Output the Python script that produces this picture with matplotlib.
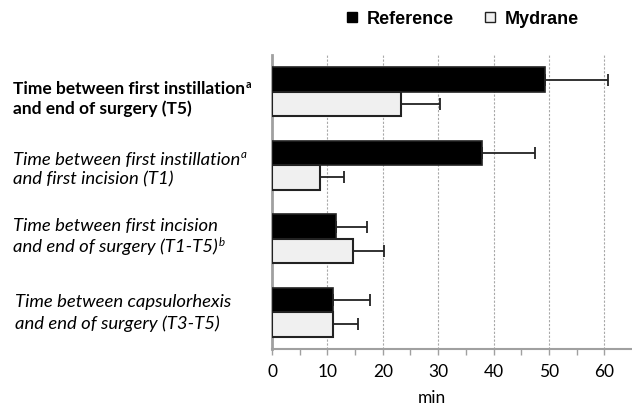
import matplotlib.pyplot as plt
import numpy as np
from matplotlib.lines import Line2D
from matplotlib.transforms import blended_transform_factory

plt.rcParams['font.family'] = ['Lato', 'DejaVu Sans']

line1 = ["Time between first instillation", "Time between first instillation",
         "Time between first incision", "Time between capsulorhexis"]
line2 = ["and end of surgery (T5)", "and first incision (T1)",
         "and end of surgery (T1-T5)", "and end of surgery (T3-T5)"]
sup1 = ["a", "a", "", ""]
sup2 = ["", "", "b", ""]
label_styles = ['bold', 'italic', 'italic', 'italic']
ref_mean = [49.3, 37.9, 11.5, 11.1]
ref_sd = [11.3, 9.6, 5.7, 6.6]
myd_mean = [23.3, 8.7, 14.7, 11.0]
myd_sd = [7.0, 4.3, 5.6, 4.6]

fig = plt.figure(figsize=(6.32, 4.05), dpi=100)
ax = fig.add_axes([272/632, 1 - 349/405, 360/632, 294/405])

y = np.arange(len(line1))
h = 0.33
ax.barh(y - h/2, ref_mean, height=h, color='black', edgecolor='#222222', linewidth=1.2, zorder=3)
ax.barh(y + h/2, myd_mean, height=h, color='#f0f0f0', edgecolor='#222222', linewidth=1.5, zorder=3)
ax.errorbar(ref_mean, y - h/2, xerr=[np.zeros(4), ref_sd], fmt='none', ecolor='#222222',
            elinewidth=1.3, capsize=4.5, capthick=1.3, zorder=4)
ax.errorbar(myd_mean, y + h/2, xerr=[np.zeros(4), myd_sd], fmt='none', ecolor='#222222',
            elinewidth=1.3, capsize=4.5, capthick=1.3, zorder=4)

ax.set_xlim(0, 65)
ax.set_ylim(3.5, -0.5)
ax.set_xticks(range(0, 61, 10))
ax.set_xticks(range(5, 61, 10), minor=True)
ax.set_yticks([])
ax.tick_params(axis='x', which='both', direction='out', length=4, width=1, color='#a0a0a0',
               labelsize=12.5, pad=6.5)
ax.grid(axis='x', linestyle=(0, (2, 1.5)), color='#a8a8a8', linewidth=0.8, zorder=0)
for s in ['top', 'right']:
    ax.spines[s].set_visible(False)
ax.spines['left'].set_color('#a0a0a0')
ax.spines['left'].set_linewidth(2)
ax.spines['bottom'].set_color('#a0a0a0')
ax.spines['bottom'].set_linewidth(1.5)
ax.set_xlabel('min', fontsize=12.5, va='center')
ax.xaxis.set_label_coords(0.444, -0.168)

# label lines: baseline offsets from group centre (data units)
trans = blended_transform_factory(fig.transFigure, ax.transData)
off1 = [0.036, -0.01, -0.105, -0.078]
off2 = [0.308, 0.263, 0.182, 0.222]
xs = [13, 13, 13, 15]
for i in range(len(line1)):
    kw = dict(fontsize=12.5 if label_styles[i] == 'bold' else 13.3,
              fontweight='bold' if label_styles[i] == 'bold' else 'normal',
              fontstyle='italic' if label_styles[i] == 'italic' else 'normal')
    for txt, off, sup in [(line1[i], off1[i], sup1[i]), (line2[i], off2[i], sup2[i])]:
        t = ax.text(xs[i] / 632, y[i] + off, txt, transform=trans, va='baseline', ha='left',
                    clip_on=False, **kw)
        if sup:
            kws = dict(kw)
            kws['fontsize'] = kw['fontsize'] * 0.62
            ax.annotate(sup, xy=(1, 0), xycoords=t, xytext=(0.5, 6.5), textcoords='offset points',
                        va='baseline', ha='left', **kws)

handles = [Line2D([], [], marker='s', linestyle='none', markersize=7.5, markerfacecolor='black',
                  markeredgecolor='black'),
           Line2D([], [], marker='s', linestyle='none', markersize=7.5, markerfacecolor='#f0f0f0',
                  markeredgecolor='#222222', markeredgewidth=1)]
fig.legend(handles, ['Reference', 'Mydrane'], loc='center', bbox_to_anchor=(462/632, 1 - 19/405),
           ncol=2, frameon=False, handlelength=0.8, handletextpad=0.4, columnspacing=1.6,
           prop={'family': 'Liberation Sans', 'weight': 'bold', 'size': 13})

fig.savefig('out.png', dpi=100)
